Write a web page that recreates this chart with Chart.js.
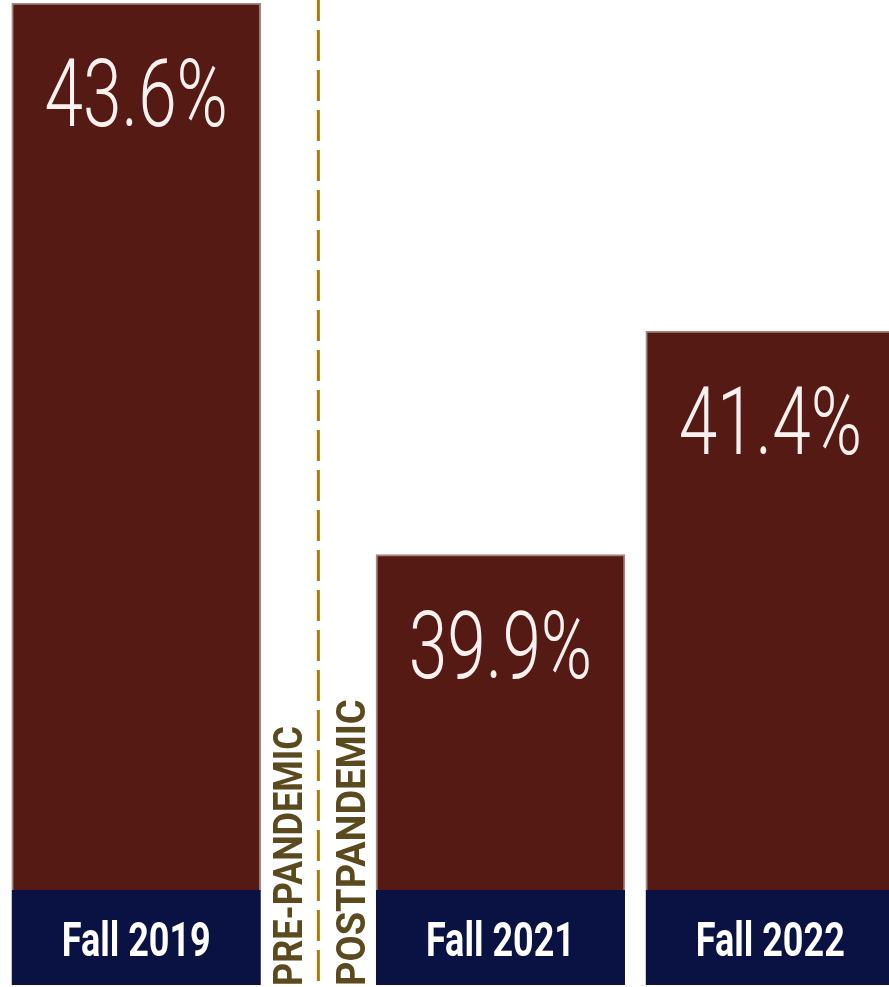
<!DOCTYPE html>
<html>
<head>
<meta charset="utf-8">
<script src="https://cdn.jsdelivr.net/npm/chart.js@4"></script>
<style>
  html, body { margin: 0; padding: 0; background: #fff; }
  #wrap { width: 889px; height: 987px; position: relative; }
</style>
</head>
<body>
<div id="wrap"><canvas id="rateChart"></canvas></div>
<script>
// data
const terms = ['Fall 2019', 'Fall 2021', 'Fall 2022'];
const rates = [43.6, 39.9, 41.4];
const dividerLabels = ['PRE-PANDEMIC', 'POSTPANDEMIC'];

const maroon = '#561a15';
const navy = '#0a1244';
const gold = '#a67c0c';
const olive = '#5b4a1e';

// the pandemic gap pushes the postpandemic terms to the right
const gap = 0.35;
const points = rates.map((v, i) => ({ x: i + (i > 0 ? gap : 0), y: v }));

// draw condensed text by squeezing the canvas
function narrowText(ctx, text, x, y, sx) {
    ctx.save();
    ctx.translate(x, y);
    ctx.scale(sx, 1);
    ctx.fillText(text, 0, 0);
    ctx.restore();
}

const labelsPlugin = {
    id: 'labels',
    afterDatasetsDraw(chart) {
        const ctx = chart.ctx;
        const area = chart.chartArea;
        const bars = chart.getDatasetMeta(0).data;
        ctx.save();

        bars.forEach((bar, i) => {
            const left = bar.x - bar.width / 2;
            // navy band with the term name
            ctx.fillStyle = navy;
            ctx.fillRect(left, area.bottom, bar.width, 95);
            ctx.fillStyle = '#ffffff';
            ctx.font = 'bold 48px Roboto';
            ctx.textAlign = 'center';
            ctx.textBaseline = 'alphabetic';
            narrowText(ctx, terms[i], bar.x, area.bottom + 66, 0.75);

            // value inside the bar
            ctx.fillStyle = '#fbf1ee';
            ctx.font = '300 95px Roboto';
            narrowText(ctx, rates[i].toFixed(1) + '%', bar.x, bar.y + 123, 0.73);
        });

        // dashed divider between 2019 and 2021
        const mid = (bars[0].x + bars[1].x) / 2;
        ctx.strokeStyle = gold;
        ctx.lineWidth = 3;
        ctx.setLineDash([31, 9]);
        ctx.lineDashOffset = 10;
        ctx.beginPath();
        ctx.moveTo(mid, 0);
        ctx.lineTo(mid, chart.height);
        ctx.stroke();
        ctx.setLineDash([]);

        // rotated pre / post labels
        ctx.fillStyle = olive;
        ctx.font = 'bold 40px Roboto';
        ctx.textAlign = 'left';
        ctx.textBaseline = 'alphabetic';
        [[dividerLabels[0], mid - 16, 0.9], [dividerLabels[1], mid + 47, 0.95]].forEach(([txt, x, sx]) => {
            ctx.save();
            ctx.translate(x, chart.height - 1);
            ctx.rotate(-Math.PI / 2);
            ctx.scale(sx, 1);
            ctx.fillText(txt, 0, 0);
            ctx.restore();
        });

        ctx.restore();
    }
};

new Chart(document.getElementById('rateChart'), {
    type: 'bar',
    data: {
        datasets: [{
            data: points,
            backgroundColor: maroon,
            borderColor: '#a88482',
            borderWidth: 2,
            barThickness: 249
        }]
    },
    options: {
        responsive: true,
        maintainAspectRatio: false,
        animation: false,
        events: [],
        layout: { padding: { top: 3, bottom: 97, left: 0, right: 0 } },
        plugins: {
            legend: { display: false },
            tooltip: { enabled: false }
        },
        scales: {
            x: { type: 'linear', offset: false, min: -0.505, max: 2.79, display: false },
            y: { min: 37.65, max: 43.6, display: false }
        }
    },
    plugins: [labelsPlugin]
});
</script>
</body>
</html>
